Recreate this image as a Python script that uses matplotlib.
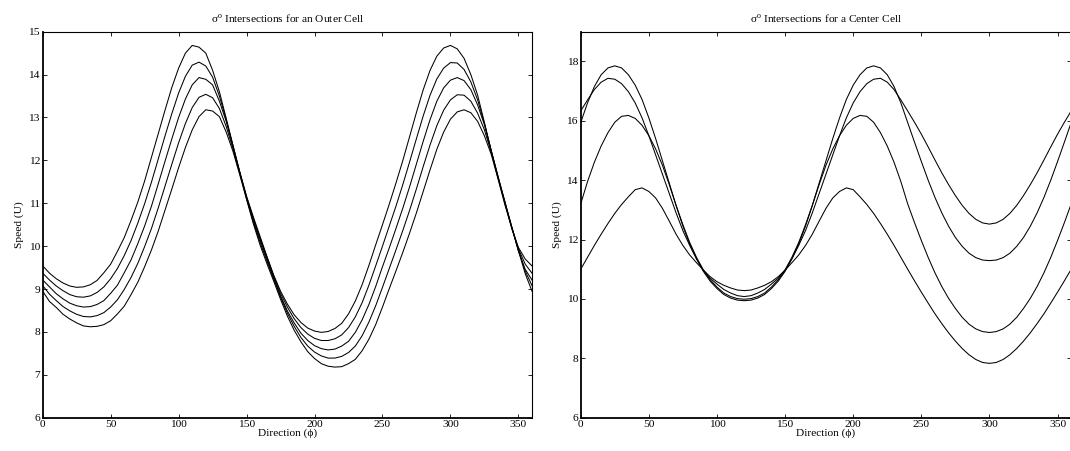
import matplotlib
matplotlib.use("Agg")
import matplotlib.pyplot as plt
import numpy as np

plt.rcParams['font.family'] = ['Liberation Serif', 'DejaVu Serif']
plt.rcParams['mathtext.fontset'] = 'custom'
plt.rcParams['mathtext.rm'] = 'Liberation Serif'
plt.rcParams['mathtext.it'] = 'Liberation Serif:italic'

# Direction grid (degrees)
direction = list(range(0, 361, 5))

# ---- Outer cell: five solution curves ----
outer_1 = [9.54, 9.37, 9.24, 9.14, 9.07, 9.04, 9.05, 9.10, 9.20, 9.38,
           9.58, 9.88, 10.20, 10.60, 11.03, 11.52, 12.07, 12.62, 13.17, 13.70,
           14.15, 14.50, 14.68, 14.64, 14.50, 14.10, 13.60, 12.98, 12.35, 11.72,
           11.16, 10.68, 10.22, 9.76, 9.32, 8.95, 8.65, 8.40, 8.22, 8.09,
           8.02, 7.99, 8.01, 8.08, 8.20, 8.42, 8.72, 9.10, 9.55, 10.03,
           10.50, 10.98, 11.48, 12.00, 12.56, 13.12, 13.65, 14.10, 14.43, 14.62,
           14.68, 14.60, 14.38, 14.00, 13.52, 12.88, 12.22, 11.63, 11.02, 10.42,
           9.97, 9.70, 9.54]
outer_2 = [9.37, 9.21, 9.07, 8.96, 8.87, 8.82, 8.81, 8.84, 8.92, 9.05,
           9.24, 9.48, 9.78, 10.13, 10.54, 10.99, 11.49, 12.03, 12.57, 13.09,
           13.57, 13.96, 14.22, 14.29, 14.20, 13.94, 13.50, 12.95, 12.34, 11.73,
           11.15, 10.64, 10.18, 9.74, 9.30, 8.90, 8.58, 8.31, 8.10, 7.95,
           7.85, 7.80, 7.80, 7.84, 7.93, 8.10, 8.35, 8.68, 9.09, 9.54,
           10.00, 10.47, 10.94, 11.44, 11.97, 12.51, 13.04, 13.52, 13.90, 14.15,
           14.28, 14.27, 14.12, 13.83, 13.41, 12.86, 12.23, 11.62, 11.04, 10.45,
           9.94, 9.58, 9.37]
outer_3 = [9.21, 9.05, 8.89, 8.77, 8.67, 8.61, 8.58, 8.59, 8.64, 8.73,
           8.90, 9.09, 9.38, 9.68, 10.06, 10.47, 10.93, 11.45, 11.98, 12.50,
           13.00, 13.43, 13.76, 13.93, 13.89, 13.76, 13.38, 12.91, 12.32, 11.72,
           11.12, 10.59, 10.14, 9.70, 9.26, 8.84, 8.49, 8.21, 7.97, 7.80,
           7.68, 7.61, 7.58, 7.60, 7.67, 7.78, 7.99, 8.28, 8.64, 9.06,
           9.52, 9.96, 10.42, 10.89, 11.39, 11.92, 12.45, 12.95, 13.38, 13.69,
           13.87, 13.93, 13.86, 13.65, 13.29, 12.83, 12.22, 11.60, 11.04, 10.46,
           9.89, 9.46, 9.21]
outer_4 = [9.08, 8.88, 8.73, 8.59, 8.49, 8.41, 8.36, 8.35, 8.38, 8.45,
           8.58, 8.75, 8.99, 9.27, 9.60, 9.99, 10.41, 10.89, 11.40, 11.91,
           12.41, 12.86, 13.23, 13.47, 13.54, 13.46, 13.21, 12.79, 12.27, 11.70,
           11.11, 10.56, 10.08, 9.65, 9.23, 8.81, 8.44, 8.13, 7.87, 7.67,
           7.53, 7.44, 7.39, 7.39, 7.43, 7.52, 7.67, 7.91, 8.23, 8.61,
           9.04, 9.48, 9.92, 10.37, 10.84, 11.34, 11.86, 12.36, 12.81, 13.17,
           13.41, 13.53, 13.52, 13.38, 13.10, 12.71, 12.19, 11.59, 11.01, 10.46,
           9.90, 9.42, 9.08]
outer_5 = [8.95, 8.71, 8.57, 8.41, 8.30, 8.21, 8.14, 8.12, 8.13, 8.17,
           8.26, 8.42, 8.60, 8.87, 9.16, 9.52, 9.91, 10.35, 10.84, 11.33,
           11.83, 12.30, 12.71, 13.02, 13.18, 13.15, 13.02, 12.66, 12.21, 11.66,
           11.09, 10.52, 10.02, 9.59, 9.18, 8.76, 8.37, 8.04, 7.77, 7.54,
           7.38, 7.26, 7.20, 7.18, 7.19, 7.26, 7.36, 7.56, 7.83, 8.17,
           8.58, 9.01, 9.43, 9.86, 10.31, 10.78, 11.28, 11.78, 12.26, 12.66,
           12.96, 13.13, 13.18, 13.11, 12.91, 12.57, 12.14, 11.57, 10.97, 10.44,
           9.90, 9.36, 8.95]

# ---- Center cell: four solution curves ----
center_1 = [15.94, 16.6, 17.15, 17.55, 17.78, 17.85, 17.78, 17.55, 17.2, 16.72,
            16.1, 15.4, 14.65, 13.9, 13.15, 12.45, 11.85, 11.35, 10.93, 10.6,
            10.35, 10.15, 10.03, 9.96, 9.94,
            9.96, 10.03, 10.15, 10.35, 10.6, 10.93, 11.35, 11.85, 12.45, 13.15,
            13.9, 14.65, 15.4, 16.1, 16.72, 17.2, 17.55, 17.78, 17.85, 17.78,
            17.55, 17.15, 16.6, 15.94,
            15.28, 14.63, 14.0, 13.42, 12.9, 12.45, 12.07, 11.77, 11.54, 11.39,
            11.31, 11.29,
            11.31, 11.39, 11.54, 11.77, 12.07, 12.45, 12.9, 13.42, 14.0, 14.63,
            15.28, 15.94]
center_2 = [16.33, 16.7, 17.05, 17.3, 17.43, 17.4, 17.25, 16.98, 16.6, 16.1,
            15.5, 14.85, 14.2, 13.55, 12.9, 12.3, 11.8, 11.35, 10.96, 10.65,
            10.4, 10.2, 10.08, 10.01, 9.99,
            10.01, 10.08, 10.2, 10.4, 10.65, 10.96, 11.35, 11.8, 12.3, 12.9,
            13.55, 14.2, 14.85, 15.5, 16.1, 16.6, 16.98, 17.25, 17.4, 17.43,
            17.3, 17.05, 16.7, 16.33,
            15.95, 15.55, 15.12, 14.68, 14.25, 13.85, 13.48, 13.15, 12.88, 12.68,
            12.56, 12.52,
            12.56, 12.68, 12.88, 13.15, 13.48, 13.85, 14.25, 14.68, 15.12, 15.55,
            15.95, 16.33]
center_3 = [13.2, 13.95, 14.6, 15.15, 15.6, 15.95, 16.15, 16.18, 16.08, 15.85,
            15.5, 15.05, 14.5, 13.85, 13.15, 12.5, 11.9, 11.4, 10.98, 10.7,
            10.5, 10.32, 10.2, 10.11, 10.08,
            10.11, 10.2, 10.32, 10.5, 10.7, 10.98, 11.4, 11.9, 12.5, 13.15,
            13.85, 14.5, 15.05, 15.5, 15.85, 16.08, 16.18, 16.15, 15.95, 15.6,
            15.15, 14.6, 13.95, 13.2,
            12.57, 11.97, 11.4, 10.88, 10.42, 10.02, 9.68, 9.38, 9.15, 8.99,
            8.9, 8.87,
            8.9, 8.99, 9.15, 9.38, 9.68, 10.02, 10.42, 10.88, 11.4, 11.97,
            12.57, 13.2]
center_4 = [11.0, 11.4, 11.8, 12.18, 12.54, 12.88, 13.18, 13.44, 13.68, 13.74,
            13.62, 13.4, 13.05, 12.62, 12.18, 11.8, 11.48, 11.22, 10.97, 10.75,
            10.58, 10.46, 10.37, 10.30, 10.28,
            10.30, 10.37, 10.46, 10.58, 10.75, 10.97, 11.22, 11.48, 11.8, 12.18,
            12.62, 13.05, 13.4, 13.62, 13.74, 13.68, 13.44, 13.18, 12.88, 12.54,
            12.18, 11.8, 11.4, 11.0,
            10.61, 10.23, 9.86, 9.50, 9.17, 8.86, 8.58, 8.33, 8.12, 7.96,
            7.86, 7.83,
            7.86, 7.96, 8.12, 8.33, 8.58, 8.86, 9.17, 9.50, 9.86, 10.23,
            10.61, 11.0]

outer_curves = [outer_1, outer_2, outer_3, outer_4, outer_5]
center_curves = [center_1, center_2, center_3, center_4]

x_ticks = [0, 50, 100, 150, 200, 250, 300, 350]
outer_yticks = [6, 7, 8, 9, 10, 11, 12, 13, 14, 15]
center_yticks = [6, 8, 10, 12, 14, 16, 18]

titles = [r'σ$^{\mathrm{o}}$ Intersections for an Outer Cell',
          r'σ$^{\mathrm{o}}$ Intersections for a Center Cell']
xlabel = 'Direction (ϕ)'
ylabel = 'Speed (U)'

W, H = 1070, 451
fig = plt.figure(figsize=(W / 100, H / 100), dpi=100)
ax1 = fig.add_axes([42.7 / W, (H - 417.7) / H, 489.3 / W, 386.0 / H])
ax2 = fig.add_axes([580.7 / W, (H - 417.7) / H, 490.5 / W, 386.0 / H])

fs = 8.2
for ax, curves, yt, ylim, title in [
        (ax1, outer_curves, outer_yticks, (6, 15), titles[0]),
        (ax2, center_curves, center_yticks, (6, 19), titles[1])]:
    for c in curves:
        ax.plot(direction, c, color='black', linewidth=0.75)
    ax.set_xlim(0, 360)
    ax.set_ylim(*ylim)
    ax.set_xticks(x_ticks)
    ax.set_yticks(yt)
    ax.tick_params(direction='in', top=True, right=True, length=3,
                   width=0.6, labelsize=fs, pad=2)
    ax.tick_params(axis='x', pad=1.5)
    for side in ['left', 'bottom']:
        ax.spines[side].set_linewidth(1.3)
    for side in ['top', 'right']:
        ax.spines[side].set_linewidth(0.8)
    ax.set_title(title, fontsize=fs, pad=7)
    ax.set_xlabel(xlabel, fontsize=fs, labelpad=0)
    ax.set_ylabel(ylabel, fontsize=fs, labelpad=3)

fig.savefig('out.png', dpi=100)
